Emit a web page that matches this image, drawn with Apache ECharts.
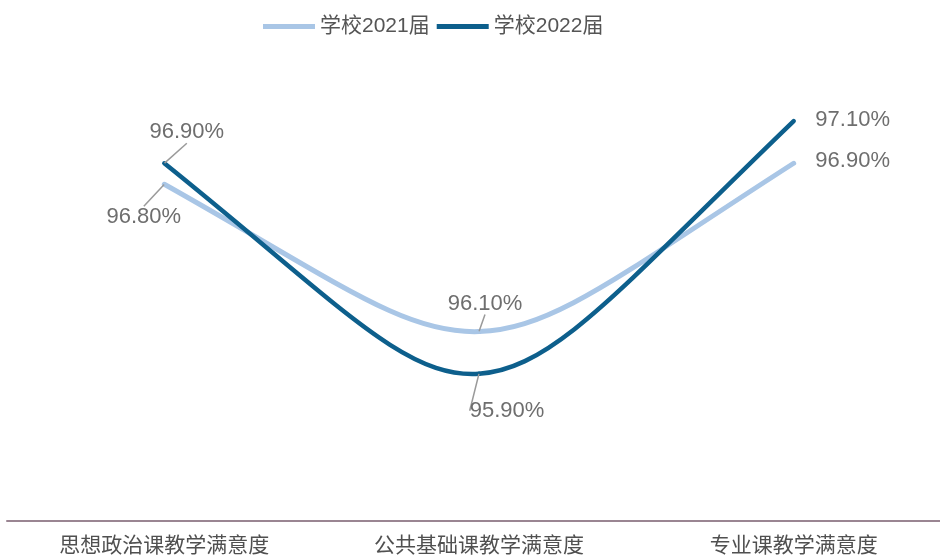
<!DOCTYPE html>
<html><head><meta charset="utf-8">
<script src="https://cdn.jsdelivr.net/npm/echarts@6/dist/echarts.min.js"></script>
<style>html,body{margin:0;padding:0;background:#fff}#c{width:940px;height:557px}</style>
</head><body><div id="c"></div>
<script>
const categories = ['思想政治课教学满意度', '公共基础课教学满意度', '专业课教学满意度'];
const seriesNames = ['学校2021届', '学校2022届'];
const values2021 = [96.8, 96.1, 96.9];
const values2022 = [96.9, 95.9, 97.1];

// label offsets (style only): [seriesIndex][dataIndex] -> [dx, dy] of label centre from point
const labelOffsets = [
  [[-20.5, 33], [6, -28], [59, -2]],
  [[22.5, -31], [28, 37], [59, -1]]
];
const colors = ['#a9c6e6', '#0d5f8c'];
const widths = [5, 4.5];
const numFont = '"Liberation Sans", Arial, sans-serif';
const cjkFont = '"Liberation Sans", "Noto Sans CJK SC", sans-serif';
// curve shape constants
const END_SLOPE_K = 1.2, END_HANDLE = 0.55, MID_HANDLE = 0.24;

const chart = echarts.init(document.getElementById('c'));

function labelSeries(name, data, idx) {
  return {
    name: name, type: 'line', data: data.map((v, i) => ({
      value: v,
      labelLine: { show: i < 2 }
    })),
    symbol: 'circle', symbolSize: 0.5, showSymbol: true,
    lineStyle: { width: 0, opacity: 0, color: colors[idx] },
    itemStyle: { color: colors[idx] },
    z: 5,
    label: {
      show: true, position: 'inside',
      formatter: p => p.value.toFixed(2) + '%',
      fontSize: 22, color: '#6e6e6e', fontFamily: numFont
    },
    labelLine: { show: true, lineStyle: { color: '#9a9a9a', width: 1.5 } },
    labelLayout: function (p) {
      const o = labelOffsets[idx][p.dataIndex];
      return { dx: o[0], dy: o[1] };
    },
    emphasis: { disabled: true },
    silent: true
  };
}

// smooth curve through the data coordinates (Hermite-style Bezier segments)
function curveSeries(data, idx) {
  return {
    name: '_curve' + idx, type: 'custom', z: 2 + idx, silent: true,
    data: data.map((v, i) => [i, v]),
    renderItem: function (params, api) {
      const i = params.dataIndex;
      const n = data.length;
      if (i >= n - 1) return null;
      const P = data.map((v, k) => api.coord([k, v]));
      function slopeAt(k) {
        if (k === 0) return END_SLOPE_K * (P[1][1] - P[0][1]) / (P[1][0] - P[0][0]);
        if (k === n - 1) return END_SLOPE_K * (P[n - 1][1] - P[n - 2][1]) / (P[n - 1][0] - P[n - 2][0]);
        return (P[k + 1][1] - P[k - 1][1]) / (P[k + 1][0] - P[k - 1][0]);
      }
      const a = P[i], b = P[i + 1];
      const dx = b[0] - a[0];
      const h1 = dx * (i === 0 ? END_HANDLE : MID_HANDLE);
      const h2 = dx * (i + 1 === n - 1 ? END_HANDLE : MID_HANDLE);
      const s1 = slopeAt(i), s2 = slopeAt(i + 1);
      return {
        type: 'bezierCurve',
        shape: {
          x1: a[0], y1: a[1], x2: b[0], y2: b[1],
          cpx1: a[0] + h1, cpy1: a[1] + h1 * s1,
          cpx2: b[0] - h2, cpy2: b[1] - h2 * s2
        },
        style: { stroke: colors[idx], lineWidth: widths[idx], fill: null, lineCap: 'round' }
      };
    }
  };
}

chart.setOption({
  animation: false,
  legend: {
    top: 11, left: 258, itemWidth: 52, itemHeight: 5, itemGap: 7, icon: 'rect',
    textStyle: { fontSize: 21, color: '#555', fontFamily: cjkFont },
    data: seriesNames.map((n, i) => ({ name: n, itemStyle: { color: colors[i], opacity: 1 } }))
  },
  grid: { left: 7, width: 944, top: 37, bottom: 36, outerBoundsMode: 'none', containLabel: false },
  xAxis: {
    type: 'category', data: categories, boundaryGap: true,
    axisLine: { lineStyle: { color: '#9a8592', width: 2 } },
    axisTick: { show: false },
    axisLabel: { fontSize: 21, color: '#505050', margin: 13, fontFamily: '"Noto Sans CJK SC", sans-serif' }
  },
  yAxis: { type: 'value', min: 95.2, max: 97.5, show: false, splitLine: { show: false } },
  series: [
    labelSeries(seriesNames[0], values2021, 0),
    labelSeries(seriesNames[1], values2022, 1),
    curveSeries(values2021, 0),
    curveSeries(values2022, 1)
  ]
});
</script></body></html>
